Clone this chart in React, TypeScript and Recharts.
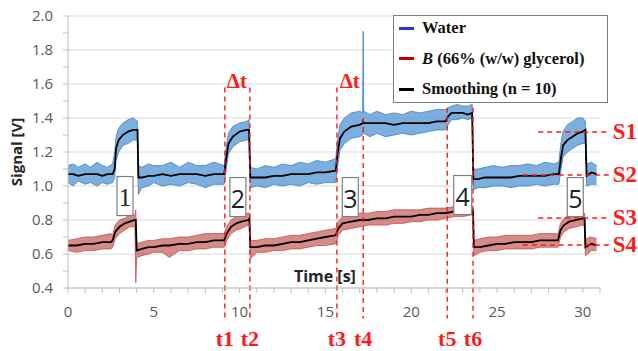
import React from "react";
import {
  ComposedChart,
  Area,
  Line,
  XAxis,
  YAxis,
  CartesianGrid,
  ReferenceLine,
  ReferenceDot,
} from "recharts";

// Water signal (blue): time [s], smoothed value and the raw noise envelope
const waterTime = [
  0, 0.3, 0.6, 1.0, 1.3, 1.7, 2.0, 2.3, 2.6, 2.72, 2.8, 2.95, 3.2, 3.5, 3.8, 4.05, 4.1, 4.3, 4.7, 5.0,
  5.5, 6.0, 6.5, 7.0, 7.5, 8.0, 8.5, 9.1, 9.2, 9.35, 9.6, 10.0, 10.4, 10.55, 10.62, 11.0, 11.5, 12.0,
  12.5, 13.0, 13.5, 14.0, 14.5, 15.0, 15.6, 15.72, 15.85, 16.1, 16.5, 17.0, 17.17, 17.2, 17.23, 17.6,
  18.0, 18.5, 19.0, 19.5, 20.0, 20.5, 21.0, 21.5, 22.0, 22.15, 22.35, 22.7, 23.0, 23.3, 23.55, 23.62,
  23.9, 24.3, 24.8, 25.3, 25.8, 26.3, 26.8, 27.3, 27.8, 28.3, 28.6, 28.72, 28.85, 29.1, 29.4, 29.7,
  30.0, 30.15, 30.22, 30.5, 30.8,
];
const waterSmooth = [
  1.07, 1.07, 1.06, 1.07, 1.07, 1.07, 1.06, 1.07, 1.07, 1.1, 1.22, 1.27, 1.3, 1.32, 1.33, 1.33, 1.05, 1.05, 1.06, 1.06,
  1.07, 1.06, 1.07, 1.07, 1.07, 1.06, 1.07, 1.07, 1.15, 1.25, 1.29, 1.32, 1.33, 1.33, 1.05, 1.05, 1.05, 1.06,
  1.06, 1.07, 1.07, 1.07, 1.08, 1.08, 1.09, 1.2, 1.28, 1.32, 1.35, 1.36, 1.37, 1.38, 1.37, 1.37,
  1.37, 1.37, 1.36, 1.37, 1.37, 1.37, 1.37, 1.38, 1.38, 1.41, 1.43, 1.43, 1.43, 1.42, 1.43, 1.04,
  1.04, 1.05, 1.05, 1.05, 1.05, 1.06, 1.06, 1.06, 1.06, 1.07, 1.07, 1.16, 1.24, 1.27, 1.29, 1.31,
  1.32, 1.33, 1.06, 1.08, 1.07,
];
const waterLow = [
  1.02, 1.0, 1.03, 1.01, 1.02, 1.0, 1.02, 1.01, 1.02, 1.05, 1.15, 1.2, 1.24, 1.25, 1.27, 1.27, 0.95, 0.99, 1.0, 1.02,
  1.0, 1.01, 1.0, 1.02, 1.01, 0.99, 1.01, 1.01, 1.08, 1.19, 1.23, 1.26, 1.27, 1.27, 0.99, 1.0, 0.99, 1.01,
  1.0, 1.01, 1.0, 1.02, 1.01, 1.02, 1.02, 1.12, 1.21, 1.25, 1.28, 1.29, 1.3, 1.32, 1.31, 1.29,
  1.31, 1.29, 1.3, 1.31, 1.3, 1.31, 1.32, 1.33, 1.33, 1.36, 1.39, 1.39, 1.4, 1.39, 1.4, 0.98,
  0.99, 0.99, 1.0, 1.0, 0.99, 1.0, 1.0, 1.01, 1.0, 1.01, 1.01, 1.09, 1.17, 1.2, 1.22, 1.24,
  1.25, 1.25, 1.0, 1.01, 1.01,
];
const waterHigh = [
  1.12, 1.13, 1.11, 1.13, 1.11, 1.14, 1.12, 1.11, 1.13, 1.2, 1.29, 1.34, 1.37, 1.39, 1.4, 1.38, 1.12, 1.11, 1.13, 1.12,
  1.12, 1.14, 1.11, 1.14, 1.12, 1.12, 1.14, 1.12, 1.22, 1.31, 1.35, 1.37, 1.38, 1.39, 1.11, 1.1, 1.12, 1.11,
  1.13, 1.12, 1.14, 1.13, 1.15, 1.14, 1.16, 1.28, 1.36, 1.4, 1.43, 1.44, 1.43, 1.91, 1.44, 1.42,
  1.44, 1.42, 1.43, 1.42, 1.44, 1.43, 1.44, 1.45, 1.45, 1.46, 1.47, 1.48, 1.47, 1.47, 1.48, 1.1,
  1.1, 1.11, 1.12, 1.11, 1.12, 1.12, 1.13, 1.12, 1.14, 1.13, 1.14, 1.25, 1.32, 1.36, 1.38, 1.4,
  1.4, 1.38, 1.13, 1.14, 1.12,
];

// B (66% w/w glycerol) signal (red)
const glyTime = [
  0, 0.5, 1.0, 1.5, 2.0, 2.5, 2.6, 2.75, 3.0, 3.3, 3.6, 3.9, 3.95, 4.0, 4.3, 4.7, 5.0, 5.5, 5.9, 6.5,
  7.0, 7.5, 8.0, 8.5, 9.1, 9.25, 9.5, 9.8, 10.1, 10.5, 10.57, 10.62, 11.0, 11.5, 12.0, 12.5, 13.0,
  13.5, 14.0, 14.5, 15.0, 15.6, 15.75, 16.0, 16.5, 17.0, 17.5, 18.0, 18.5, 19.0, 19.5, 20.0, 20.5,
  21.0, 21.5, 22.0, 22.5, 23.0, 23.5, 23.6, 23.65, 24.0, 24.5, 25.0, 25.5, 26.0, 26.5, 27.0, 27.5,
  28.0, 28.55, 28.7, 28.9, 29.2, 29.6, 30.0, 30.1, 30.15, 30.5, 30.8,
];
const glySmooth = [
  0.65, 0.65, 0.66, 0.66, 0.67, 0.67, 0.68, 0.73, 0.76, 0.78, 0.79, 0.8, 0.8, 0.62, 0.63, 0.64, 0.64, 0.65, 0.65, 0.66,
  0.66, 0.67, 0.67, 0.68, 0.68, 0.72, 0.76, 0.78, 0.79, 0.8, 0.81, 0.64, 0.64, 0.65, 0.65, 0.66, 0.67,
  0.67, 0.68, 0.69, 0.7, 0.71, 0.75, 0.78, 0.79, 0.8, 0.8, 0.81, 0.81, 0.82, 0.82, 0.82, 0.83,
  0.83, 0.84, 0.84, 0.85, 0.86, 0.86, 0.86, 0.64, 0.64, 0.65, 0.66, 0.66, 0.67, 0.67, 0.67, 0.68,
  0.68, 0.68, 0.74, 0.77, 0.79, 0.8, 0.81, 0.81, 0.64, 0.66, 0.65,
];
const glyLow = [
  0.62, 0.61, 0.62, 0.62, 0.63, 0.63, 0.64, 0.69, 0.72, 0.74, 0.76, 0.76, 0.43, 0.58, 0.59, 0.6, 0.61, 0.61, 0.58, 0.62,
  0.62, 0.63, 0.63, 0.64, 0.64, 0.68, 0.72, 0.74, 0.75, 0.77, 0.77, 0.57, 0.61, 0.61, 0.62, 0.62, 0.63,
  0.63, 0.64, 0.65, 0.65, 0.66, 0.71, 0.74, 0.75, 0.76, 0.77, 0.77, 0.77, 0.78, 0.78, 0.79, 0.79,
  0.8, 0.8, 0.81, 0.82, 0.82, 0.83, 0.83, 0.59, 0.61, 0.62, 0.62, 0.63, 0.63, 0.63, 0.63, 0.64,
  0.64, 0.64, 0.7, 0.73, 0.75, 0.76, 0.77, 0.76, 0.59, 0.62, 0.62,
];
const glyHigh = [
  0.68, 0.69, 0.7, 0.7, 0.71, 0.72, 0.71, 0.77, 0.8, 0.81, 0.83, 0.83, 0.86, 0.66, 0.67, 0.68, 0.68, 0.69, 0.69, 0.7,
  0.7, 0.71, 0.72, 0.72, 0.72, 0.76, 0.8, 0.82, 0.83, 0.84, 0.84, 0.68, 0.68, 0.69, 0.69, 0.7, 0.71,
  0.71, 0.72, 0.73, 0.74, 0.75, 0.79, 0.82, 0.83, 0.84, 0.84, 0.85, 0.85, 0.86, 0.86, 0.86, 0.86,
  0.87, 0.87, 0.87, 0.88, 0.88, 0.89, 0.88, 0.68, 0.69, 0.7, 0.7, 0.71, 0.71, 0.71, 0.71, 0.72,
  0.72, 0.72, 0.78, 0.81, 0.83, 0.84, 0.84, 0.84, 0.69, 0.7, 0.69,
];

const xTicks = Array.from({ length: 32 }, (_, i) => i);
const yTicks = [0.4, 0.5, 0.6, 0.7, 0.8, 0.9, 1.0, 1.1, 1.2, 1.3, 1.4, 1.5, 1.6, 1.7, 1.8, 1.9, 2.0];
const gridValues = [0.4, 0.6, 0.8, 1.0, 1.2, 1.4, 1.6, 1.8, 2.0];

// event markers: name, time, top of the dashed line
const markerNames = ["t1", "t2", "t3", "t4", "t5", "t6"];
const markerTimes = [9.14, 10.6, 15.67, 17.2, 22.1, 23.6];
const markerTops = [1.58, 1.58, 1.58, 1.4, 1.46, 1.46];
const markerLabelY = 0.105;
const markerBottom = 0.22;

// Δt labels over the two step pairs
const deltaX = [9.84, 16.42];
const deltaY = 1.618;

// numbered step boxes
const boxNames = ["1", "2", "3", "4", "5"];
const boxX = [3.32, 9.9, 16.45, 23.0, 29.56];
const boxY = [0.941, 0.935, 0.935, 0.947, 0.935];

// signal levels on the right
const levelNames = ["S1", "S2", "S3", "S4"];
const levelValues = [1.318, 1.065, 0.812, 0.653];
const levelStart = [27.4, 26.5, 27.4, 26.5];
const levelEnd = 31.55;
const levelLabelX = 32.45;

const waterData = waterTime.map((t, i) => ({
  t,
  smooth: waterSmooth[i],
  band: [waterLow[i], waterHigh[i]],
}));
const glyData = glyTime.map((t, i) => ({
  t,
  smooth: glySmooth[i],
  band: [glyLow[i], glyHigh[i]],
}));

const RED = "#ff1a1a";
const SERIF = "'Liberation Serif', 'Times New Roman', serif";
const SANS = "'Open Sans', 'Liberation Sans', sans-serif";

function textShape(text: string, size: number, opts: { color?: string; font?: string; weight?: string } = {}) {
  return (props: any) => (
    <text
      x={props.cx}
      y={props.cy}
      textAnchor="middle"
      dominantBaseline="central"
      fontFamily={opts.font || SERIF}
      fontWeight={opts.weight || "bold"}
      fontSize={size}
      fill={opts.color || RED}
    >
      {text}
    </text>
  );
}

function boxShape(text: string) {
  return (props: any) => {
    const w = text === "4" ? 18 : 16;
    const h = 39;
    return (
      <g>
        <rect
          x={props.cx - w / 2}
          y={props.cy - h / 2}
          width={w}
          height={h}
          fill="#fff"
          stroke="#7f7f7f"
          strokeWidth={1.2}
        />
        <text
          x={props.cx}
          y={props.cy + 1}
          textAnchor="middle"
          dominantBaseline="central"
          fontFamily={text === "1" ? SERIF : SANS}
          fontSize={25}
          fill="#222"
        >
          {text}
        </text>
      </g>
    );
  };
}

const legendItems = [
  { color: "#3333cc", label: <>Water</> },
  { color: "#c00000", label: <><i>B</i> (66% (w/w) glycerol)</> },
  { color: "#000000", label: <>Smoothing (n = 10)</> },
];

export default function App() {
  return (
    <div style={{ position: "absolute", left: 0, top: 0, width: 638, height: 351, background: "#fff" }}>
      <ComposedChart width={638} height={351} margin={{ top: 16, right: 38, bottom: 33, left: 0 }}>
        <CartesianGrid vertical={false} horizontalValues={gridValues} stroke="#d9d9d9" />
        <XAxis
          type="number"
          dataKey="t"
          domain={[0, 31]}
          ticks={xTicks}
          interval={0}
          allowDataOverflow
          height={30}
          tickSize={5}
          tickMargin={13}
          tickFormatter={(v: number) => (v % 5 === 0 ? String(v) : "")}
          tick={{ fill: "#595959", fontSize: 15, fontFamily: SANS }}
          axisLine={{ stroke: "#bfbfbf" }}
          tickLine={{ stroke: "#bfbfbf" }}
        />
        <YAxis
          type="number"
          domain={[0.4, 2.0]}
          ticks={yTicks}
          interval={0}
          allowDataOverflow
          width={68}
          tickSize={5}
          tickMargin={10}
          tickFormatter={(v: number) => (Math.round(v * 10) % 2 === 0 ? v.toFixed(1) : "")}
          tick={{ fill: "#595959", fontSize: 15, fontFamily: SANS }}
          axisLine={{ stroke: "#bfbfbf" }}
          tickLine={{ stroke: "#bfbfbf" }}
          label={{
            value: "Signal [V]",
            angle: -90,
            position: "center",
            dx: -17,
            style: { fontFamily: SANS, fontWeight: "bold", fontSize: 15, fill: "#262626" },
          }}
        />

        <Area
          data={waterData}
          dataKey="band"
          type="linear"
          stroke="#3f7fc4"
          strokeWidth={0.8}
          fill="#5b9bd5"
          fillOpacity={0.8}
          isAnimationActive={false}
          dot={false}
          activeDot={false}
        />
        <Area
          data={glyData}
          dataKey="band"
          type="linear"
          stroke="#c0504d"
          strokeWidth={0.8}
          fill="#c55a56"
          fillOpacity={0.7}
          isAnimationActive={false}
          dot={false}
          activeDot={false}
        />
        <Line
          data={waterData}
          dataKey="smooth"
          type="linear"
          stroke="#000"
          strokeWidth={1.8}
          dot={false}
          isAnimationActive={false}
        />
        <Line
          data={glyData}
          dataKey="smooth"
          type="linear"
          stroke="#000"
          strokeWidth={1.8}
          dot={false}
          isAnimationActive={false}
        />

        {markerTimes.map((t, i) => (
          <ReferenceLine
            key={"m" + i}
            segment={[
              { x: t, y: markerTops[i] },
              { x: t, y: markerBottom },
            ]}
            ifOverflow="visible"
            stroke={RED}
            strokeWidth={1.4}
            strokeDasharray="5 4"
          />
        ))}
        {levelValues.map((v, i) => (
          <ReferenceLine
            key={"s" + i}
            segment={[
              { x: levelStart[i], y: v },
              { x: levelEnd, y: v },
            ]}
            ifOverflow="visible"
            stroke={RED}
            strokeWidth={1.4}
            strokeDasharray="5 4"
          />
        ))}

        {boxNames.map((n, i) => (
          <ReferenceDot key={"b" + n} x={boxX[i]} y={boxY[i]} ifOverflow="visible" shape={boxShape(n)} />
        ))}
        {markerNames.map((n, i) => (
          <ReferenceDot
            key={"l" + n}
            x={markerTimes[i]}
            y={markerLabelY}
            ifOverflow="visible"
            shape={textShape(n, 22)}
          />
        ))}
        {deltaX.map((x, i) => (
          <ReferenceDot key={"d" + i} x={x} y={deltaY} ifOverflow="visible" shape={textShape("Δt", 21)} />
        ))}
        {levelNames.map((n, i) => (
          <ReferenceDot
            key={"n" + n}
            x={levelLabelX}
            y={levelValues[i]}
            ifOverflow="visible"
            shape={textShape(n, 23)}
          />
        ))}
        <ReferenceDot
          x={14.97}
          y={0.47}
          ifOverflow="visible"
          shape={textShape("Time [s]", 16, { color: "#262626", font: SANS })}
        />
      </ComposedChart>

      <div
        style={{
          position: "absolute",
          left: 393,
          top: 15,
          width: 213,
          height: 86,
          border: "1px solid #7f7f7f",
          background: "#fff",
          fontFamily: SERIF,
          fontWeight: "bold",
          fontSize: 16.5,
          color: "#111",
          boxSizing: "content-box",
        }}
      >
        {legendItems.map((it, i) => (
          <div
            key={i}
            style={{ position: "absolute", left: 5, top: 1 + i * 30.5, height: 22, display: "flex", alignItems: "center", whiteSpace: "nowrap" }}
          >
            <span style={{ display: "inline-block", width: 15, height: 3, background: it.color, marginRight: 8 }} />
            <span>{it.label}</span>
          </div>
        ))}
      </div>
    </div>
  );
}
